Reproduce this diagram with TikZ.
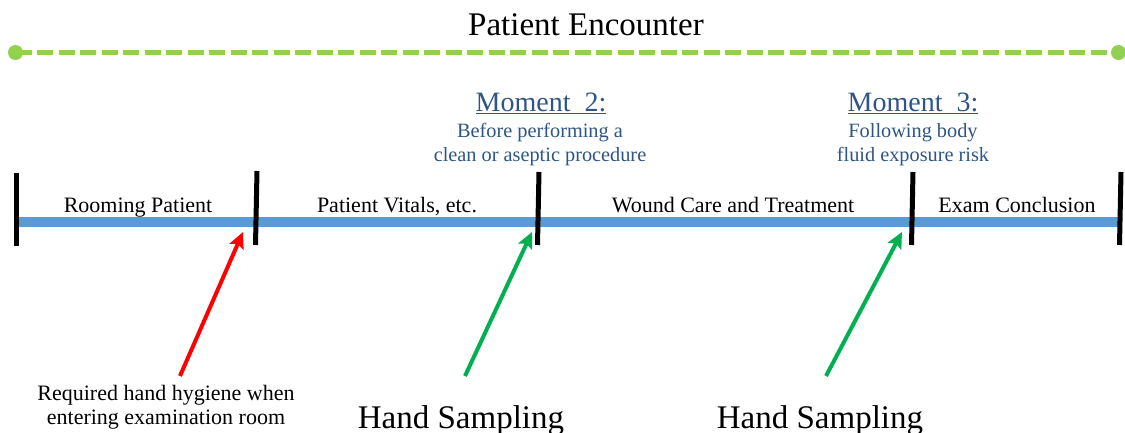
\documentclass[tikz,border=0pt]{standalone}
\usepackage{fontspec}
\setmainfont{Liberation Serif}
\usetikzlibrary{arrows.meta}
\definecolor{dashgreen}{HTML}{92D050}
\definecolor{barblue}{HTML}{5B9BD5}
\definecolor{momblue}{HTML}{2E5583}
\definecolor{arrred}{HTML}{FF0000}
\definecolor{arrgreen}{HTML}{00B050}
\begin{document}
\begin{tikzpicture}[x=1pt,y=-1pt,
  title/.style={font=\fontsize{33}{38}\selectfont, inner sep=0pt, anchor=base},
  seglabel/.style={font=\fontsize{22}{26}\selectfont, inner sep=0pt, anchor=base},
  momhead/.style={font=\fontsize{28}{32}\selectfont, text=momblue, inner sep=0pt, anchor=base},
  momtext/.style={font=\fontsize{20.3}{24.4}\selectfont, text=momblue, inner sep=0pt, anchor=base, align=center},
  bottext/.style={font=\fontsize{22}{24}\selectfont, inner sep=0pt, anchor=base, align=center},
  sampling/.style={font=\fontsize{33}{38}\selectfont, inner sep=0pt, anchor=base},
  tick/.style={line width=5pt, black},
  timeline/.style={line width=10pt, barblue},
  encline/.style={line width=5pt, dashgreen, dash pattern=on 16pt off 5.5pt},
  encdot/.style={circle, fill=dashgreen, minimum size=15pt, inner sep=0pt},
  hyg/.style={line width=4pt, -{Stealth[length=16pt,width=15pt,inset=3pt]}}
]
\useasboundingbox (0,0) rectangle (1125,433);

% Encounter span
\node[encdot] (dl) at (15.5,52.5) {};
\node[encdot] (dr) at (1118.5,52.5) {};
\draw[encline] (dl.center) -- (dr.center);
\node[title] (enc) at (586,36) {Patient Encounter};

% Timeline bar
\coordinate (bl) at (16,222);
\coordinate (br) at (1119,222);
\draw[timeline] (bl) -- (br);

% Ticks
\coordinate (t1a) at (16.5,173); \coordinate (t1b) at (16.5,246);
\coordinate (t2a) at (257,171);  \coordinate (t2b) at (255.5,245);
\coordinate (t3a) at (539,172);  \coordinate (t3b) at (537.5,245);
\coordinate (t4a) at (913,172);  \coordinate (t4b) at (911.5,245);
\coordinate (t5a) at (1121,172); \coordinate (t5b) at (1119.5,245);
\draw[tick] (t1a) -- (t1b);
\draw[tick] (t2a) -- (t2b);
\draw[tick] (t3a) -- (t3b);
\draw[tick] (t4a) -- (t4b);
\draw[tick] (t5a) -- (t5b);

% Segment labels
\node[seglabel] (s1) at (138,212) {Rooming Patient};
\node[seglabel] (s2) at (397,212) {Patient Vitals, etc.};
\node[seglabel] (s3) at (733,212) {Wound Care and Treatment};
\node[seglabel] (s4) at (1017,212) {Exam Conclusion};

% Moments
\node[momhead] (m2) at (541,111.7) {\underline{Moment\ \ 2:}};
\node[momtext] (m2a) at (540,137.5) {Before performing a};
\node[momtext] (m2b) at (540,161.7) {clean or aseptic procedure};
\node[momhead] (m3) at (913,111.7) {\underline{Moment\ \ 3:}};
\node[momtext] (m3a) at (913,137.5) {Following body};
\node[momtext] (m3b) at (913,161.7) {fluid exposure risk};

% Bottom labels
\node[bottext] (req1) at (166,400) {Required hand hygiene when};
\node[bottext] (req2) at (166,424) {entering examination room};
\node[sampling] (hs1) at (461,428) {Hand Sampling};
\node[sampling] (hs2) at (820,428) {Hand Sampling};

% Arrows
\coordinate (ra) at (180,376); \coordinate (rb) at (243,232);
\coordinate (ga) at (465,376); \coordinate (gb) at (532,232);
\coordinate (ha) at (826,376); \coordinate (hb) at (902,232);
\draw[hyg, arrred] (ra) -- (rb);
\draw[hyg, arrgreen] (ga) -- (gb);
\draw[hyg, arrgreen] (ha) -- (hb);
\end{tikzpicture}
\end{document}
